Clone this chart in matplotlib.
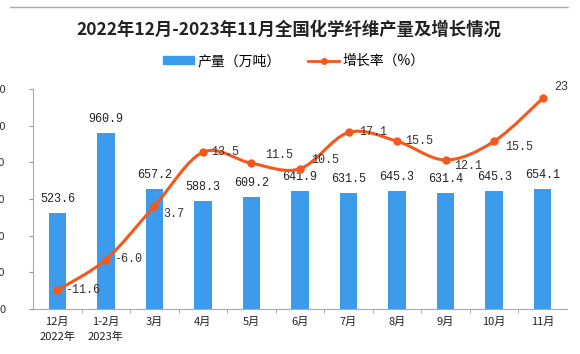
import matplotlib.pyplot as plt
from matplotlib.path import Path
from matplotlib.patches import PathPatch, Rectangle
from matplotlib.lines import Line2D

plt.rcParams['font.family'] = ['Noto Sans CJK SC', 'DejaVu Sans']

months = ['12月\n2022年', '1-2月\n2023年', '3月', '4月', '5月', '6月',
          '7月', '8月', '9月', '10月', '11月']
output = [523.6, 960.9, 657.2, 588.3, 609.2, 641.9, 631.5, 645.3, 631.4, 645.3, 654.1]
growth = [-11.6, -6.0, 3.7, 13.5, 11.5, 10.5, 17.1, 15.5, 12.1, 15.5, 23.3]
growth_txt = ['-11.6', '-6.0', '3.7', '13.5', '11.5', '10.5', '17.1', '15.5', '12.1', '15.5', '23.3']

blue = '#3d9beb'
orange = '#f4581c'

fig = plt.figure(figsize=(5.8, 3.54), dpi=100)
ax = fig.add_axes([33/580, 1-309/354, 534/580, 220/354])
x = list(range(len(months)))

ax.bar(x, output, width=0.36, color=blue, zorder=2)
ax.set_xlim(-0.5, 10.5)
ax.set_ylim(0, 1200)
ax.set_yticks(range(0, 1201, 200))
ax.set_yticklabels([str(v) for v in range(0, 1201, 200)])
ax.tick_params(axis='y', length=3, pad=17, labelsize=8, color='#999999', labelcolor='#333333')
ax.set_xticks(x)
ax.set_xticklabels(months, fontsize=8, linespacing=1.45, color='#222222')
ax.set_xticks([i + 0.5 for i in x[:-1]], minor=True)
ax.tick_params(axis='x', which='major', length=0, pad=6)
ax.tick_params(axis='x', which='minor', length=3, color='#999999')
for s in ['top', 'right']:
    ax.spines[s].set_visible(False)
for s in ['left', 'bottom']:
    ax.spines[s].set_color('#aaaaaa')

for i, v in enumerate(output):
    ax.annotate(f'{v:.1f}', (i, v), xytext=(0, 10), textcoords='offset points',
                ha='center', va='center', fontsize=8.5, family='Liberation Mono', color='#222222')

ax2 = ax.twinx()
ax2.set_ylim(-15, 25)
ax2.set_yticks([])
for s in ax2.spines.values():
    s.set_visible(False)

# smooth curve through the points (Catmull-Rom as cubic Bezier)
pts = list(zip(x, growth))
verts = [pts[0]]
codes = [Path.MOVETO]
for i in range(len(pts) - 1):
    p0 = pts[i - 1] if i > 0 else pts[i]
    p1, p2 = pts[i], pts[i + 1]
    p3 = pts[i + 2] if i + 2 < len(pts) else pts[i + 1]
    c1 = (p1[0] + (p2[0] - p0[0]) / 6, p1[1] + (p2[1] - p0[1]) / 6)
    c2 = (p2[0] - (p3[0] - p1[0]) / 6, p2[1] - (p3[1] - p1[1]) / 6)
    verts += [c1, c2, p2]
    codes += [Path.CURVE4] * 3
ax2.add_patch(PathPatch(Path(verts, codes), fill=False, edgecolor=orange, lw=2.2, zorder=3))
ax2.plot(x, growth, 'o', color=orange, ms=5, zorder=4)

offsets = [(18, 0), (16, 0), (14, -6), (16, 0), (20, 6), (18, 6), (18, 0), (16, 0), (16, -4), (18, -4), (18, 8)]
for i, v in enumerate(growth):
    ax2.annotate(growth_txt[i], (i, v), xytext=offsets[i], textcoords='offset points',
                 ha='center', va='center', fontsize=8.5, family='Liberation Mono', color='#333333',
                 annotation_clip=False)

fig.text(289/580, 1-30/354, '2022年12月-2023年11月全国化学纤维产量及增长情况',
         ha='center', va='center', fontsize=12.5, fontweight='bold', color='#222222')

handles = [Rectangle((0, 0), 1, 1, color=blue),
           Line2D([0], [0], color=orange, lw=2, marker='o', ms=4)]
fig.legend(handles, ['产量（万吨）', '增长率（%）'], loc='center', bbox_to_anchor=(294/580, 1-61/354),
           ncol=2, frameon=False, fontsize=10, handlelength=2.2, handleheight=0.5,
           columnspacing=2.0, handletextpad=0.25)

fig.add_artist(Line2D([10/580, 568/580], [1-7/354, 1-7/354], color='#aaaaaa', lw=1, transform=fig.transFigure))
fig.add_artist(Rectangle((569/580, 0), 11/580, 1, color='white', transform=fig.transFigure, zorder=10))

fig.savefig('out.png', dpi=100)
